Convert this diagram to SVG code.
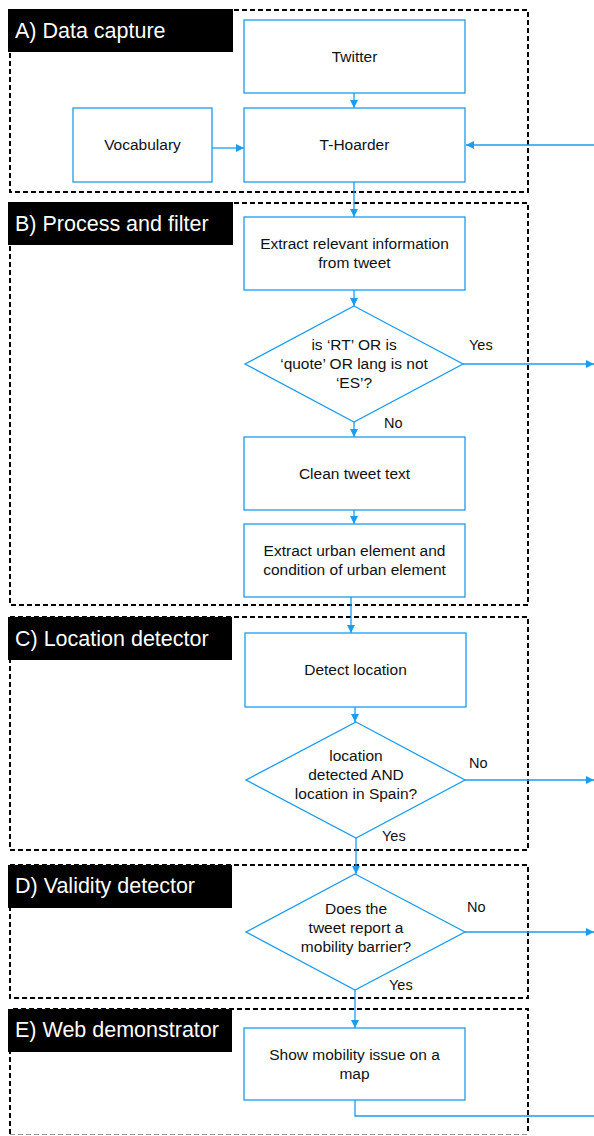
<svg xmlns="http://www.w3.org/2000/svg" width="594" height="1136" viewBox="0 0 594 1136">
<defs>
<style>
.sec{fill:none;stroke:#000;stroke-width:2;stroke-dasharray:5,3}
.lab{fill:#000}
.labt{fill:#fff;font-family:"Liberation Sans",Arial,sans-serif;font-size:21.5px}
.box{fill:#fff;stroke:#1a9cf0;stroke-width:1.3}
.t{fill:#111;font-family:"Liberation Sans",Arial,sans-serif;font-size:15.5px;text-anchor:middle}
.e{fill:#111;font-family:"Liberation Sans",Arial,sans-serif;font-size:14.5px}
.c{fill:none;stroke:#1a9cf0;stroke-width:1.3}
</style>
<marker id="ah" viewBox="0 0 10 10" refX="10" refY="5" markerWidth="8" markerHeight="8" markerUnits="userSpaceOnUse" orient="auto">
<path d="M0,0 L10,5 L0,10 z" fill="#1a9cf0"/>
</marker>
</defs>

<g id="sections">
<rect class="sec" x="10" y="10" width="518" height="182"/>
<rect class="sec" x="10" y="203" width="518" height="402"/>
<rect class="sec" x="10" y="617" width="518" height="233"/>
<rect class="sec" x="10" y="865" width="518" height="133"/>
<path class="sec" d="M10,1134 V1009 H528 V1134"/>
<line x1="10" y1="1134.5" x2="528" y2="1134.5" stroke="#999" stroke-width="1" stroke-dasharray="5,3"/>
</g>

<g id="label-A"><rect class="lab" x="8" y="9" width="225" height="43"/><text class="labt" x="15" y="38">A) Data capture</text></g>
<g id="label-B"><rect class="lab" x="8" y="202" width="225" height="43"/><text class="labt" x="15" y="231">B) Process and filter</text></g>
<g id="label-C"><rect class="lab" x="8" y="617" width="224" height="43"/><text class="labt" x="15" y="646">C) Location detector</text></g>
<g id="label-D"><rect class="lab" x="8" y="865" width="224" height="43"/><text class="labt" x="15" y="893">D) Validity detector</text></g>
<g id="label-E"><rect class="lab" x="8" y="1009" width="224" height="43"/><text class="labt" x="15" y="1037">E) Web demonstrator</text></g>

<g id="connectors">
<line class="c" x1="354" y1="93" x2="354" y2="108" marker-end="url(#ah)"/>
<line class="c" x1="212" y1="148" x2="244" y2="148" marker-end="url(#ah)"/>
<line class="c" x1="594" y1="145" x2="466" y2="145" marker-end="url(#ah)"/>
<line class="c" x1="354" y1="182" x2="354" y2="217" marker-end="url(#ah)"/>
<line class="c" x1="354" y1="290" x2="354" y2="306" marker-end="url(#ah)"/>
<line class="c" x1="463" y1="364" x2="594" y2="364" marker-end="url(#ah)"/>
<line class="c" x1="354" y1="422" x2="354" y2="437" marker-end="url(#ah)"/>
<line class="c" x1="354" y1="510" x2="354" y2="524" marker-end="url(#ah)"/>
<line class="c" x1="351" y1="597" x2="351" y2="633" marker-end="url(#ah)"/>
<line class="c" x1="355" y1="707" x2="355" y2="722" marker-end="url(#ah)"/>
<line class="c" x1="465" y1="780" x2="594" y2="780" marker-end="url(#ah)"/>
<line class="c" x1="356" y1="838" x2="356" y2="874" marker-end="url(#ah)"/>
<line class="c" x1="465" y1="932" x2="594" y2="932" marker-end="url(#ah)"/>
<line class="c" x1="355" y1="990" x2="355" y2="1028" marker-end="url(#ah)"/>
<polyline class="c" points="355,1100 355,1116 594,1116"/>
<text class="e" x="469" y="350">Yes</text>
<text class="e" x="384" y="428">No</text>
<text class="e" x="469" y="768">No</text>
<text class="e" x="382" y="841">Yes</text>
<text class="e" x="467" y="912">No</text>
<text class="e" x="389" y="990">Yes</text>
</g>

<g id="twitter"><rect class="box" x="244" y="20" width="221" height="73"/><text class="t" x="354.5" y="62">Twitter</text></g>
<g id="vocabulary"><rect class="box" x="73" y="108" width="139" height="74"/><text class="t" x="142.5" y="150">Vocabulary</text></g>
<g id="thoarder"><rect class="box" x="244" y="108" width="221" height="74"/><text class="t" x="354.5" y="150">T-Hoarder</text></g>
<g id="extract-info"><rect class="box" x="244" y="217" width="221" height="73"/><text class="t" x="354.5" y="249">Extract relevant information</text><text class="t" x="354.5" y="268">from tweet</text></g>
<g id="filter"><polygon class="box" points="354,306 463,364 354,422 245,364"/><text class="t" x="354" y="350">is ‘RT’ OR is</text><text class="t" x="354" y="369">‘quote’ OR lang is not</text><text class="t" x="354" y="388">‘ES’?</text></g>
<g id="clean"><rect class="box" x="244" y="437" width="221" height="73"/><text class="t" x="354.5" y="479">Clean tweet text</text></g>
<g id="extract-urban"><rect class="box" x="244" y="524" width="221" height="73"/><text class="t" x="354.5" y="556">Extract urban element and</text><text class="t" x="354.5" y="575">condition of urban element</text></g>
<g id="detect-location"><rect class="box" x="245" y="633" width="221" height="74"/><text class="t" x="355.5" y="675">Detect location</text></g>
<g id="location-check"><polygon class="box" points="356,722 465,780 356,838 246,780"/><text class="t" x="356" y="761">location</text><text class="t" x="356" y="780">detected AND</text><text class="t" x="356" y="799">location in Spain?</text></g>
<g id="validity-check"><polygon class="box" points="355,874 465,932 355,990 246,932"/><text class="t" x="356" y="914">Does the</text><text class="t" x="356" y="933">tweet report a</text><text class="t" x="356" y="952">mobility barrier?</text></g>
<g id="show-map"><rect class="box" x="244" y="1028" width="221" height="72"/><text class="t" x="354.5" y="1060">Show mobility issue on a</text><text class="t" x="354.5" y="1079">map</text></g>
</svg>
